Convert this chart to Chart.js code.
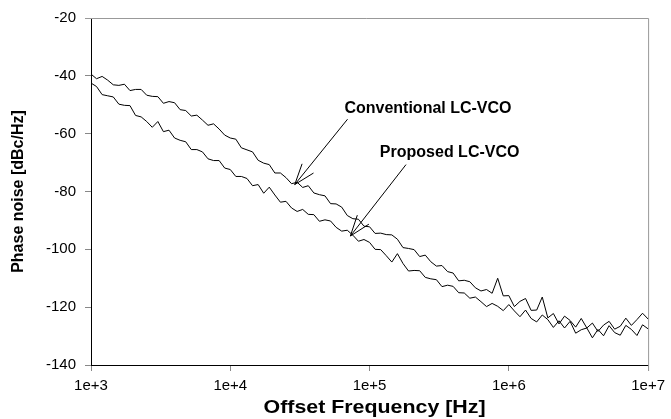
<!DOCTYPE html>
<html>
<head>
<meta charset="utf-8">
<script src="https://cdn.jsdelivr.net/npm/chart.js@4.4.1/dist/chart.umd.min.js"></script>
<style>
    html, body { margin: 0; padding: 0; background: #fff; }
    #wrap { width: 671px; height: 419px; }
</style>
</head>
<body>
<div id="wrap"><canvas id="noiseChart" width="671" height="419"></canvas></div>
<script>
// offset frequency [Hz], 25 points per decade
const frequencies = [
    1000, 1096, 1202, 1318, 1445, 1585, 1738, 1905, 2089, 2291, 2512, 2754, 3020, 3311, 3631, 3981, 4365, 4786, 5248, 5754, 6310, 6918, 7586, 8318, 9120,
    10000, 10960, 12020, 13180, 14450, 15850, 17380, 19050, 20890, 22910, 25120, 27540, 30200, 33110, 36310, 39810, 43650, 47860, 52480, 57540, 63100, 69180, 75860, 83180, 91200,
    100000, 109600, 120200, 131800, 144500, 158500, 173800, 190500, 208900, 229100, 251200, 275400, 302000, 331100, 363100, 398100, 436500, 478600, 524800, 575400, 631000, 691800, 758600, 831800, 912000,
    1.0e6, 1.096e6, 1.202e6, 1.318e6, 1.445e6, 1.585e6, 1.738e6, 1.905e6, 2.089e6, 2.291e6, 2.512e6, 2.754e6, 3.020e6, 3.311e6, 3.631e6, 3.981e6, 4.365e6, 4.786e6, 5.248e6, 5.754e6, 6.310e6, 6.918e6, 7.586e6, 8.318e6, 9.120e6,
    1.0e7
];

// phase noise [dBc/Hz]
const conventional = [
    -39.4, -41.0, -40.2, -41.5, -43.1, -43.3, -42.9, -45.1, -44.7, -44.7, -46.7, -47.1, -47.2, -49.5, -48.9, -49.3, -51.7, -52.0, -53.9, -53.6, -55.3, -57.1, -56.6, -58.4, -60.5,
    -61.5, -61.9, -64.9, -65.6, -66.3, -69.2, -70.2, -70.7, -73.6, -73.6, -75.2, -77.3, -76.8, -78.6, -78.0, -80.5, -81.1, -81.5, -84.2, -84.3, -85.4, -88.3, -89.4, -89.6, -92.0,
    -92.2, -94.5, -94.4, -94.9, -95.0, -96.5, -99.4, -99.7, -100.1, -102.5, -102.0, -104.3, -105.8, -105.6, -107.7, -108.2, -110.9, -110.7, -111.2, -113.3, -114.4, -113.9, -115.2, -110.0, -116.1,
    -116.0, -119.8, -118.0, -117.0, -121.1, -121.0, -116.5, -123.7, -122.2, -125.8, -123.1, -124.6, -126.9, -123.9, -127.2, -125.5, -128.4, -126.2, -124.9, -127.6, -126.6, -123.8, -126.3, -124.3, -122.1,
    -124.1
];

const proposed = [
    -42.5, -43.7, -46.5, -46.9, -47.3, -49.8, -50.2, -50.3, -53.7, -54.2, -55.8, -57.8, -55.8, -59.3, -58.8, -61.5, -62.3, -62.8, -65.5, -65.5, -66.3, -68.7, -69.3, -69.3, -71.9,
    -72.4, -74.8, -74.8, -75.5, -78.0, -77.6, -80.6, -78.5, -81.2, -83.7, -83.4, -85.7, -86.9, -86.2, -87.9, -88.0, -90.3, -89.8, -90.2, -92.4, -93.7, -93.4, -95.1, -97.2, -96.6,
    -97.6, -100.0, -100.1, -102.2, -104.4, -101.5, -104.9, -107.5, -107.3, -107.4, -109.7, -110.2, -110.5, -112.9, -112.4, -112.8, -115.0, -115.1, -116.9, -116.5, -118.1, -119.8, -118.7, -119.7, -121.2,
    -119.1, -121.3, -123.3, -121.0, -123.9, -125.1, -122.7, -124.3, -127.0, -124.7, -127.2, -124.9, -129.0, -127.8, -127.2, -130.6, -127.7, -129.9, -126.4, -128.8, -129.7, -126.3, -127.7, -129.8, -126.1,
    -127.5
];

const xTickValues = [1e3, 1e4, 1e5, 1e6, 1e7];
const xTickLabels = ['1e+3', '1e+4', '1e+5', '1e+6', '1e+7'];

const xTitle = 'Offset Frequency [Hz]';
const yTitle = 'Phase noise [dBc/Hz]';

// callouts: text anchor, arrow tail and arrow tip, in data coordinates
const callouts = [
    { text: 'Conventional LC-VCO', at: [66000, -52.8], tail: [69500, -55.0], tip: [29040, -77.6] },
    { text: 'Proposed LC-VCO', at: [118600, -68.0], tail: [182700, -70.7], tip: [72800, -95.4] }
];

const FONT = "Arial, 'Liberation Sans', sans-serif";

// gray frame on top/right, arrows + labels, and the stretched x title
const extrasPlugin = {
    id: 'extras',
    afterDraw(chart) {
        const { ctx, chartArea: a, scales } = chart;
        ctx.save();

        ctx.strokeStyle = '#999';
        ctx.lineWidth = 1;
        ctx.beginPath();
        ctx.moveTo(a.left - 6, a.top + 0.5);
        ctx.lineTo(a.right + 0.5, a.top + 0.5);
        ctx.lineTo(a.right + 0.5, a.bottom + 6);
        ctx.stroke();

        ctx.strokeStyle = '#000';
        ctx.fillStyle = '#000';
        callouts.forEach(c => {
            const tx = scales.x.getPixelForValue(c.tip[0]);
            const ty = scales.y.getPixelForValue(c.tip[1]);
            const sx = scales.x.getPixelForValue(c.tail[0]);
            const sy = scales.y.getPixelForValue(c.tail[1]);
            const ang = Math.atan2(sy - ty, sx - tx);
            ctx.beginPath();
            ctx.moveTo(sx, sy);
            ctx.lineTo(tx, ty);
            [-0.34, 0.34].forEach(d => {
                ctx.moveTo(tx, ty);
                ctx.lineTo(tx + 22 * Math.cos(ang + d), ty + 22 * Math.sin(ang + d));
            });
            ctx.stroke();

            ctx.font = 'bold 16px ' + FONT;
            ctx.textAlign = 'left';
            ctx.textBaseline = 'alphabetic';
            ctx.fillText(c.text, scales.x.getPixelForValue(c.at[0]), scales.y.getPixelForValue(c.at[1]));
        });

        // x axis title, slightly wide like the original
        ctx.font = 'bold 18px ' + FONT;
        const w = ctx.measureText(xTitle).width;
        ctx.translate((a.left + a.right) / 2 + 5, 413);
        ctx.scale(222 / w, 1);
        ctx.textAlign = 'center';
        ctx.textBaseline = 'alphabetic';
        ctx.fillText(xTitle, 0, 0);

        ctx.restore();
    }
};

const ctx = document.getElementById('noiseChart').getContext('2d');

new Chart(ctx, {
    type: 'line',
    data: {
        datasets: [
            {
                label: 'Conventional LC-VCO',
                data: frequencies.map((f, i) => ({ x: f, y: conventional[i] })),
                borderColor: '#000',
                borderWidth: 1,
                pointRadius: 0,
                tension: 0
            },
            {
                label: 'Proposed LC-VCO',
                data: frequencies.map((f, i) => ({ x: f, y: proposed[i] })),
                borderColor: '#000',
                borderWidth: 1,
                pointRadius: 0,
                tension: 0
            }
        ]
    },
    options: {
        responsive: false,
        animation: false,
        layout: { padding: { top: 15, right: 19, left: 0, bottom: 0 } },
        plugins: {
            legend: { display: false },
            tooltip: { enabled: false }
        },
        scales: {
            x: {
                type: 'logarithmic',
                min: 1e3,
                max: 1e7,
                afterBuildTicks: s => { s.ticks = xTickValues.map(v => ({ value: v })); },
                afterFit: s => { s.height = 54; },
                ticks: {
                    callback: v => xTickLabels[xTickValues.indexOf(v)],
                    color: '#000',
                    font: { family: FONT, size: 15 },
                    padding: 6,
                    maxRotation: 0,
                    autoSkip: false
                },
                grid: { drawOnChartArea: false, drawTicks: true, tickLength: 6, color: '#888' },
                border: { color: '#000', width: 1 },
                title: { display: false }
            },
            y: {
                min: -140,
                max: -20,
                afterFit: s => { s.width = 91; },
                ticks: {
                    stepSize: 20,
                    color: '#000',
                    font: { family: FONT, size: 15 },
                    padding: 9
                },
                grid: { drawOnChartArea: false, drawTicks: true, tickLength: 6, color: '#888' },
                border: { color: '#000', width: 1 },
                title: {
                    display: true,
                    text: yTitle,
                    color: '#000',
                    font: { family: FONT, size: 16, weight: 'bold' },
                    padding: { top: 9, bottom: 0 }
                }
            }
        }
    },
    plugins: [extrasPlugin]
});
</script>
</body>
</html>
